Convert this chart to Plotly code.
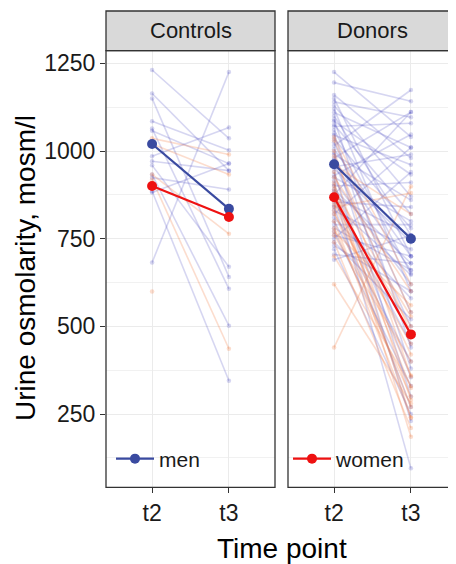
import plotly.graph_objects as go

# page offset of the plot inside the html body (default body margin)
OFF = 8
W, H = 449, 556

# ---------------- data ----------------
time_points = ["t2", "t3"]

# Controls - individual subjects
ctrl_men_t2 = [1231, 1164, 1150, 1085, 1064, 1058, 985, 971, 959, 933, 924, 885, 882, 682]
ctrl_men_t3 = [1036, 944, 641, 1002, 607, 964, 1067, 944, 670, 502, 890, 345, 964, 1225]
ctrl_women_t2 = [1036, 1020, 933, 919, 599]
ctrl_women_t3 = [990, 933, 764, 436, None]

# Donors - individual subjects
don_men_t2 = [1225, 1195, 1160, 1150, 1140, 1130, 1120, 1110, 1100, 1090,
              1085, 1075, 1070, 1060, 1050, 1045, 1035, 1025, 1015, 1005,
              995, 990, 980, 975, 965, 955, 950, 940, 930, 925,
              915, 905, 900, 890, 885, 875, 870, 860, 855, 845,
              840, 830, 820, 810, 800, 790, 780, 770, 760, 750,
              740, 730, 720, 705, 690]
don_men_t3 = [1040, 1142, 980, 700, 1096, 870, 600, 1010, 760, 440,
              933, 820, 1079, 650, 380, 961, 780, 540, 1174, 700,
              300, 860, 1111, 660, 500, 990, 740, 230, 1047, 800,
              620, 355, 910, 680, 95, 1111, 760, 450, 840, 647,
              270, 720, 1010, 580, 400, 790, 661, 330, 700, 940,
              520, 600, 250, 680, 760]
don_women_t2 = [1040, 1030, 1000, 985, 960, 940, 925, 910, 900, 890,
                880, 870, 860, 850, 840, 830, 820, 800, 780, 770,
                760, 740, 700, 620, 440]
don_women_t3 = [620, 540, 357, 480, 820, 290, 600, 239, 185, 528,
                420, 324, 500, 360, 880, 270, 450, 240, 300, 560,
                400, 210, 330, 280, 899]

# Group means
ctrl_men_mean = [1020, 835]
ctrl_women_mean = [900, 812]
don_men_mean = [962, 750]
don_women_mean = [868, 477]

y_ticks = [250, 500, 750, 1000, 1250]
panels = ["Controls", "Donors"]
# --------------------------------------

MEN_IND = "rgba(70,70,190,0.22)"
WOMEN_IND = "rgba(245,120,60,0.25)"
MEN_MEAN = "#3A4AA0"
WOMEN_MEAN = "#EE1111"
FONT = "Liberation Sans, Arial, Helvetica, sans-serif"

fig = go.Figure()

def add_individuals(t2, t3, color, xa, ya):
    for a, b in zip(t2, t3):
        fig.add_trace(go.Scatter(
            x=time_points, y=[a, b], mode="lines+markers",
            line=dict(color=color, width=1.6),
            marker=dict(color=color, size=4.5),
            showlegend=False, hoverinfo="skip", xaxis=xa, yaxis=ya))

add_individuals(ctrl_men_t2, ctrl_men_t3, MEN_IND, "x", "y")
add_individuals(ctrl_women_t2, ctrl_women_t3, WOMEN_IND, "x", "y")
add_individuals(don_men_t2, don_men_t3, MEN_IND, "x2", "y2")
add_individuals(don_women_t2, don_women_t3, WOMEN_IND, "x2", "y2")

def add_mean(vals, color, xa, ya, name=None, legend=None):
    fig.add_trace(go.Scatter(x=time_points, y=vals, mode="lines+markers",
                             line=dict(color=color, width=2.2), marker=dict(color=color, size=10),
                             name=name, showlegend=name is not None, legend=legend,
                             xaxis=xa, yaxis=ya))

add_mean(ctrl_men_mean, MEN_MEAN, "x", "y", "men", "legend")
add_mean(ctrl_women_mean, WOMEN_MEAN, "x", "y", "women", "legend2")
add_mean(don_men_mean, MEN_MEAN, "x2", "y2")
add_mean(don_women_mean, WOMEN_MEAN, "x2", "y2")

px = lambda p: (p - OFF) / W
py = lambda p: 1 - (p - OFF) / H

d1 = [px(106), px(275)]
d2 = [px(288), min(1.0, px(457))]
ydom = [py(487.3), py(50.7)]
yr = [41, 1286]

xcommon = dict(type="category", categoryorder="array", categoryarray=time_points,
               range=[-0.6, 1.6], showgrid=True, gridcolor="#EBEBEB", gridwidth=1.3,
               zeroline=False, showline=False, ticks="outside", ticklen=5, tickwidth=1.2,
               tickcolor="#333333", tickfont=dict(size=23, color="#1a1a1a", family=FONT))
ycommon = dict(range=yr, domain=ydom, tickvals=y_ticks, showgrid=True, gridcolor="#EBEBEB",
               gridwidth=1.3, zeroline=False, showline=False,
               minor=dict(dtick=125, tick0=125, showgrid=True, gridcolor="#F1F1F1", gridwidth=0.9))

legfont = dict(size=21, family=FONT, color="#1a1a1a")
fig.update_layout(
    width=W, height=H, margin=dict(l=0, r=0, t=0, b=0),
    paper_bgcolor="white", plot_bgcolor="white",
    font=dict(family=FONT, color="#1a1a1a"),
    xaxis=dict(domain=d1, anchor="y", **xcommon),
    xaxis2=dict(domain=d2, anchor="y2", matches="x", **xcommon),
    yaxis=dict(anchor="x", ticks="outside", ticklen=5, tickwidth=1.2, tickcolor="#333333",
               tickfont=dict(size=23, color="#1a1a1a", family=FONT), **ycommon),
    yaxis2=dict(anchor="x2", matches="y", showticklabels=False, ticks="", **ycommon),
    showlegend=True,
    legend=dict(x=px(111), y=py(459), xanchor="left", yanchor="middle", itemwidth=38,
                bgcolor="rgba(0,0,0,0)", font=legfont, itemclick=False),
    legend2=dict(x=px(288), y=py(459), xanchor="left", yanchor="middle", itemwidth=38,
                 bgcolor="rgba(0,0,0,0)", font=legfont, itemclick=False),
)

shapes = []
for dom in (d1, d2):
    x1 = dom[1] if dom[1] < 1 else 1.05
    shapes.append(dict(type="rect", xref="paper", yref="paper", x0=dom[0], x1=x1,
                       y0=ydom[0], y1=ydom[1], line=dict(color="#333333", width=1.3),
                       fillcolor="rgba(0,0,0,0)", layer="above"))
    shapes.append(dict(type="rect", xref="paper", yref="paper", x0=dom[0], x1=x1,
                       y0=ydom[1], y1=py(11), line=dict(color="#333333", width=1.3),
                       fillcolor="#D9D9D9", layer="above"))
fig.update_layout(shapes=shapes)

ann = []
for name, cx in zip(panels, (190.5, 372.5)):
    ann.append(dict(text=name, xref="paper", yref="paper", x=px(cx),
                    y=(ydom[1] + py(11)) / 2, showarrow=False, xanchor="center", yanchor="middle",
                    font=dict(size=22, family=FONT, color="#1a1a1a")))
ann.append(dict(text="Time point", xref="paper", yref="paper", x=px(282), y=py(548),
                showarrow=False, xanchor="center", yanchor="middle",
                font=dict(size=28, family=FONT, color="#000000")))
ann.append(dict(text="Urine osmolarity, mosm/l", xref="paper", yref="paper", x=px(25), y=py(268),
                showarrow=False, xanchor="center", yanchor="middle", textangle=-90,
                font=dict(size=28, family=FONT, color="#000000")))
fig.update_layout(annotations=ann)

fig.write_html("out.html")
